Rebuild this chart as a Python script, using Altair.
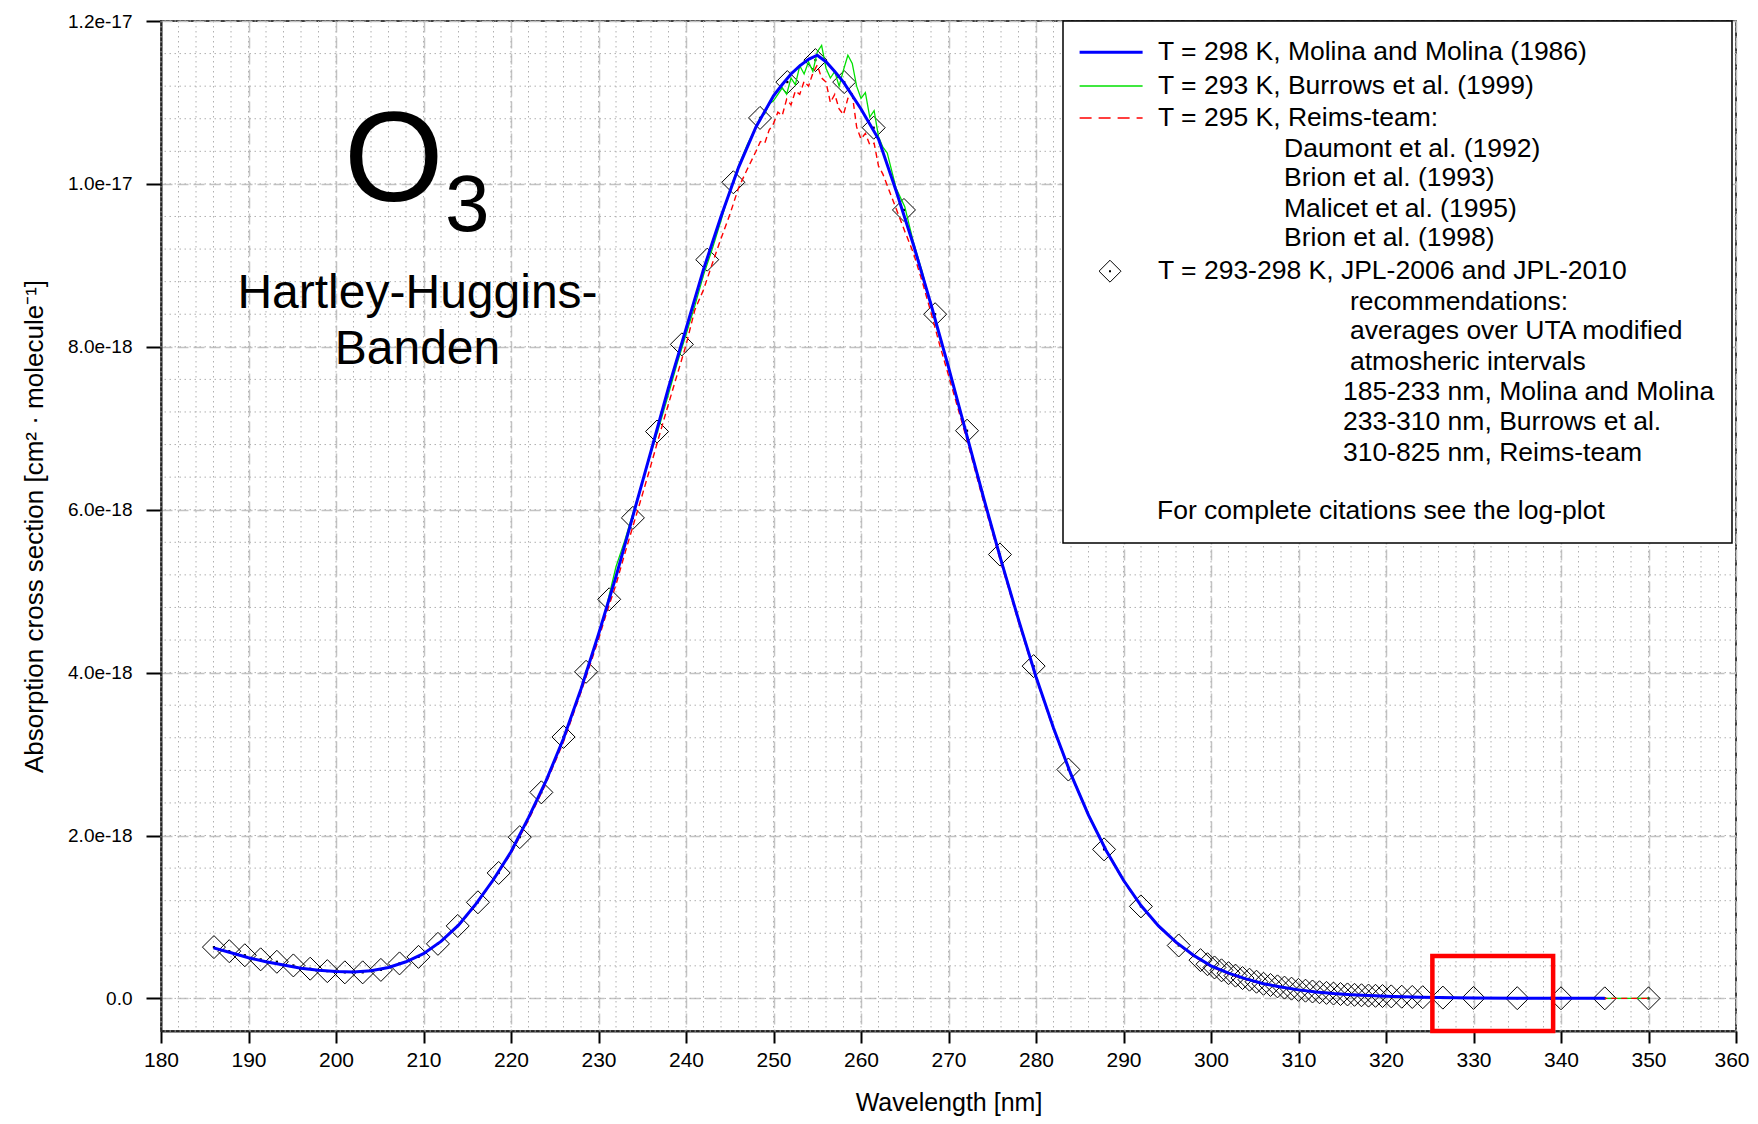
import altair as alt
import pandas as pd

# ---------------- data (cross sections in units of 1e-18 cm^2 / molecule) ----------------
molina_nm = [186, 188, 190, 192, 194, 196, 198, 200, 202, 204, 206, 208, 210, 212, 214, 216, 218, 220,
             222, 224, 226, 228, 230, 232, 234, 236, 238, 240, 242, 244, 246, 248, 250, 251, 252, 253,
             254, 255, 256, 257, 258, 260, 262, 264, 266, 268, 270, 272, 274, 276, 278, 280, 282, 284,
             286, 288, 290, 292, 294, 296, 298, 300, 302, 304, 306, 308, 310, 312, 314, 316, 318, 320,
             322, 324, 326, 328, 330, 335, 340, 345]
molina_val = [0.62, 0.56, 0.50, 0.45, 0.41, 0.37, 0.345, 0.33, 0.325, 0.34, 0.38, 0.45, 0.55, 0.70, 0.90,
              1.16, 1.46, 1.80, 2.22, 2.67, 3.19, 3.80, 4.47, 5.18, 5.95, 6.72, 7.50, 8.22, 8.95, 9.60,
              10.20, 10.70, 11.08, 11.22, 11.35, 11.45, 11.53, 11.58, 11.50, 11.38, 11.25, 10.92, 10.55,
              9.92, 9.25, 8.52, 7.75, 6.95, 6.15, 5.38, 4.65, 3.95, 3.32, 2.75, 2.25, 1.82, 1.45, 1.14,
              0.89, 0.69, 0.53, 0.40, 0.31, 0.24, 0.18, 0.14, 0.105, 0.080, 0.060, 0.046, 0.035, 0.027,
              0.020, 0.015, 0.011, 0.008, 0.006, 0.003, 0.0015, 0.0008]

burrows_nm = [231, 232, 233, 234, 235, 236, 237, 238, 239, 240, 241, 242, 243, 244, 245, 246, 247,
              248.0, 248.5, 249.0, 249.5, 250.0, 250.5, 251.0, 251.5, 252.0, 252.5, 253.0, 253.5, 254.0,
              254.5, 255.0, 255.5, 256.0, 256.5, 257.0, 257.5, 258.0, 258.5, 259.0, 259.5, 260.0, 260.5,
              261.0, 261.5, 262.0, 262.5, 263.0, 264, 265, 266, 267, 268, 269, 270, 272, 274, 276, 278,
              280, 282, 284, 286, 288, 290, 292, 294, 296, 298, 300, 302, 304, 306, 308, 310, 312, 314,
              316, 318, 320, 325, 330, 335, 340, 345, 350]
burrows_val = [4.85, 5.30, 5.62, 5.98, 6.33, 6.70, 7.05, 7.42, 7.80, 8.15, 8.50, 8.88, 9.20, 9.55, 9.92,
               10.22, 10.48, 10.70, 10.82, 10.86, 10.98, 11.02, 11.10, 11.18, 11.10, 11.30, 11.22, 11.45,
               11.35, 11.50, 11.38, 11.62, 11.70, 11.42, 11.30, 11.38, 11.20, 11.40, 11.58, 11.48, 11.20,
               11.05, 11.12, 10.82, 10.90, 10.58, 10.45, 10.38, 9.95, 9.72, 9.28, 8.92, 8.50, 8.10, 7.76,
               6.96, 6.16, 5.40, 4.66, 3.96, 3.32, 2.76, 2.26, 1.83, 1.46, 1.14, 0.89, 0.69, 0.52, 0.39,
               0.30, 0.23, 0.175, 0.135, 0.10, 0.077, 0.058, 0.045, 0.034, 0.026, 0.013, 0.006, 0.003,
               0.0015, 0.0008, 0.0004]

reims_nm = [195, 196, 198, 200, 202, 204, 206, 208, 210, 212, 214, 216, 218, 220, 222, 224, 226, 228,
            230, 231, 232, 233, 234, 235, 236, 237, 238, 239, 240, 241, 242, 243, 244, 245, 246, 247,
            248.0, 248.5, 249.0, 249.5, 250.0, 250.5, 251.0, 251.5, 252.0, 252.5, 253.0, 253.5, 254.0,
            254.5, 255.0, 255.5, 256.0, 256.5, 257.0, 257.5, 258.0, 258.5, 259.0, 259.5, 260.0, 260.5,
            261.0, 261.5, 262.0, 262.5, 263.0, 264, 265, 266, 267, 268, 269, 270, 272, 274, 276, 278,
            280, 282, 284, 286, 288, 290, 292, 294, 296, 298, 300, 302, 304, 306, 308, 310, 312, 314,
            316, 318, 320, 325, 330, 335, 340, 345, 350]
reims_val = [0.39, 0.37, 0.345, 0.33, 0.325, 0.34, 0.38, 0.45, 0.55, 0.70, 0.89, 1.15, 1.45, 1.78, 2.19,
             2.64, 3.15, 3.76, 4.41, 4.76, 5.08, 5.46, 5.82, 6.18, 6.55, 6.93, 7.30, 7.66, 8.02, 8.45,
             8.70, 9.02, 9.33, 9.62, 9.95, 10.18, 10.40, 10.52, 10.50, 10.66, 10.74, 10.88, 10.84, 11.04,
             10.97, 11.14, 11.10, 11.26, 11.20, 11.36, 11.46, 11.30, 11.25, 11.00, 11.10, 10.92, 10.85,
             11.05, 11.10, 10.70, 10.55, 10.62, 10.48, 10.50, 10.22, 10.12, 9.98, 9.70, 9.42, 9.15, 8.80,
             8.42, 8.02, 7.65, 6.90, 6.10, 5.35, 4.62, 3.93, 3.30, 2.74, 2.24, 1.81, 1.44, 1.13, 0.88,
             0.68, 0.52, 0.39, 0.30, 0.23, 0.175, 0.135, 0.10, 0.077, 0.058, 0.045, 0.034, 0.026, 0.012,
             0.006, 0.003, 0.0015, 0.0008, 0.0004]

jpl_nm = [186.05, 187.80, 189.58, 191.39, 193.24, 195.13, 197.05, 199.01, 201.01, 203.05, 205.13,
          207.26, 209.43, 211.65, 213.91, 216.22, 218.59, 221.00, 223.47, 226.00, 228.58, 231.22,
          233.93, 236.69, 239.53, 242.43, 245.41, 248.46, 251.58, 254.79, 258.08, 261.45, 264.91,
          268.47, 272.12, 275.88, 279.73, 283.70, 287.78, 291.99, 296.31,
          298.8, 299.6, 300.4, 301.2, 302.0, 302.8, 303.6, 304.4, 305.2, 306.0, 306.8, 307.6, 308.4,
          309.2, 310.0, 310.8, 311.6, 312.4, 313.2, 314.0, 314.8, 315.6, 316.4, 317.2, 318.0, 318.8,
          319.6, 320.6, 321.8, 323.0, 324.2, 326.5, 330, 335, 340, 345, 350]
jpl_val = [0.63, 0.58, 0.53, 0.48, 0.45, 0.405, 0.365, 0.335, 0.32, 0.32, 0.35, 0.43, 0.51, 0.67, 0.89,
           1.18, 1.54, 1.98, 2.53, 3.21, 4.01, 4.90, 5.90, 6.96, 8.03, 9.07, 10.02, 10.81, 11.25, 11.52,
           11.25, 10.69, 9.68, 8.40, 6.97, 5.45, 4.08, 2.81, 1.83, 1.13, 0.65,
           0.47, 0.42, 0.38, 0.345, 0.31, 0.28, 0.25, 0.23, 0.205, 0.18, 0.165, 0.148, 0.133, 0.12,
           0.105, 0.095, 0.085, 0.076, 0.068, 0.060, 0.054, 0.049, 0.044, 0.039, 0.035, 0.032, 0.029,
           0.025, 0.021, 0.018, 0.015, 0.010, 0.006, 0.003, 0.0015, 0.0008, 0.0004]

x_ticks = [180, 190, 200, 210, 220, 230, 240, 250, 260, 270, 280, 290, 300, 310, 320, 330, 340, 350, 360]
y_ticks = [0, 2, 4, 6, 8, 10, 12]
x_minor = list(range(180, 361, 2))
y_minor = [round(0.4 * i, 1) for i in range(-1, 31)]

legend_lines = [
    "T = 298 K, Molina and Molina (1986)",
    "T = 293 K, Burrows et al. (1999)",
    "T = 295 K, Reims-team:",
    "Daumont et al. (1992)",
    "Brion et al. (1993)",
    "Malicet et al. (1995)",
    "Brion et al. (1998)",
    "T = 293-298 K, JPL-2006 and JPL-2010",
    "recommendations:",
    "averages over UTA modified",
    "atmosheric intervals",
    "185-233 nm, Molina and Molina",
    "233-310 nm, Burrows et al.",
    "310-825 nm, Reims-team",
    "For complete citations see the log-plot",
]

# highlighted region (nm, 1e-18)
box_nm = [325.3, 339.1]
box_val = [-0.4, 0.52]

# ---------------- layout ----------------
W, H = 1575, 1010
FONT = "Liberation Sans"

xs = alt.Scale(domain=[180, 360], nice=False, zero=False)
ys = alt.Scale(domain=[-0.4, 12], nice=False, zero=False)

xaxis = alt.Axis(values=x_ticks, grid=True, gridDash=[11, 5], gridColor="#c4c4c4", gridWidth=1.5,
                 tickSize=12, tickWidth=2, tickColor="black", domainColor="#222222", domainWidth=2,
                 labelFont=FONT, labelFontSize=21, labelColor="black", labelPadding=6,
                 labelOverlap=False, labelFlush=False, format="d",
                 labelAlign={"condition": {"test": "datum.value == 360", "value": "right"}, "value": "center"},
                 labelOffset={"condition": {"test": "datum.value == 360", "value": 13}, "value": 0},
                 titleFont=FONT, titleFontSize=25, titleFontWeight="normal", titleColor="black",
                 titleY=79.5, titleBaseline="alphabetic")
yaxis = alt.Axis(values=y_ticks, grid=True, gridDash=[11, 5], gridColor="#c4c4c4", gridWidth=1.5,
                 tickSize=15, tickWidth=2, tickColor="black", domainColor="#222222", domainWidth=2,
                 labelFont=FONT, labelFontSize=19, labelColor="black", labelPadding=14,
                 labelOverlap=False, labelFlush=False,
                 labelExpr="datum.value == 0 ? '0.0' : format(datum.value * 1e-18, '.1e')",
                 titleFont=FONT, titleFontSize=26, titleFontWeight="normal", titleColor="black",
                 titleX=-127, titleY=H / 2, titleAngle=270, titleAlign="center", titleBaseline="middle")

XT = "Wavelength [nm]"
YT = "Absorption cross section [cm² · molecule⁻¹]"
xenc = alt.X("nm:Q", scale=xs, axis=xaxis, title=XT)
yenc = alt.Y("val:Q", scale=ys, axis=yaxis, title=YT)

layers = []

# minor dotted grid
layers.append(alt.Chart(pd.DataFrame({"nm": x_minor})).mark_rule(
    color="#b0b0b0", strokeWidth=1, strokeDash=[1.5, 3.5]).encode(x=xenc))
layers.append(alt.Chart(pd.DataFrame({"val": y_minor})).mark_rule(
    color="#b0b0b0", strokeWidth=1, strokeDash=[1.5, 3.5]).encode(y=yenc))

df_jpl = pd.DataFrame({"nm": jpl_nm, "val": jpl_val})
layers.append(alt.Chart(df_jpl).mark_point(shape="diamond", size=529, filled=False, color="black",
                                           strokeWidth=1, opacity=1).encode(x=xenc, y=yenc))
layers.append(alt.Chart(df_jpl).mark_point(shape="square", size=5, filled=True, color="black",
                                           opacity=1).encode(x=xenc, y=yenc))

layers.append(alt.Chart(pd.DataFrame({"nm": burrows_nm, "val": burrows_val})).mark_line(
    color="#00e000", strokeWidth=1.3).encode(x=xenc, y=yenc))
layers.append(alt.Chart(pd.DataFrame({"nm": reims_nm, "val": reims_val})).mark_line(
    color="#ff0000", strokeWidth=1.4, strokeDash=[6, 4]).encode(x=xenc, y=yenc))
layers.append(alt.Chart(pd.DataFrame({"nm": molina_nm, "val": molina_val})).mark_line(
    color="#0000ff", strokeWidth=3).encode(x=xenc, y=yenc))

# red highlight box
layers.append(alt.Chart(pd.DataFrame({"nm": [box_nm[0]], "nm2": [box_nm[1]],
                                      "val": [box_val[0]], "val2": [box_val[1]]})).mark_rect(
    filled=False, stroke="#ff0000", strokeWidth=4.5).encode(
    x=xenc, x2="nm2:Q", y=yenc, y2="val2:Q"))

one = pd.DataFrame({"k": [0]})

# legend box
layers.append(alt.Chart(one).mark_rect(fill="white", stroke="black", strokeWidth=1.5).encode(
    x=alt.value(902), x2=alt.value(1571), y=alt.value(0), y2=alt.value(522)))

line_y = [31.2, 65, 97, 127.6, 157.4, 187.9, 217.3, 250.2, 280.7, 310.4, 340.9, 371.4, 401.2, 431.6, 489.9]
line_x = [997, 997, 997, 1123, 1123, 1123, 1123, 997, 1189, 1189, 1189, 1182, 1182, 1182, 996]

samples = [("#0000ff", 3, None), ("#00e000", 1.3, None), ("#ff0000", 1.4, [12, 7])]
for i, (col, wd, dash) in enumerate(samples):
    kw = dict(color=col, strokeWidth=wd)
    if dash:
        kw["strokeDash"] = dash
    layers.append(alt.Chart(one).mark_rule(**kw).encode(
        x=alt.value(918.6), x2=alt.value(981.6), y=alt.value(line_y[i])))

layers.append(alt.Chart(one).mark_point(shape="diamond", size=480, filled=False, color="black",
                                        strokeWidth=1, opacity=1).encode(
    x=alt.value(949), y=alt.value(line_y[7])))
layers.append(alt.Chart(one).mark_point(shape="square", size=4, filled=True, color="black",
                                        opacity=1).encode(x=alt.value(949), y=alt.value(line_y[7])))

for txt, px, py in zip(legend_lines, line_x, line_y):
    layers.append(alt.Chart(pd.DataFrame({"t": [txt]})).mark_text(
        font=FONT, fontSize=26.5, color="black", align="left", baseline="middle").encode(
        text="t:N", x=alt.value(px), y=alt.value(py)))

# O3 and band label
annot = [("O", 128, 183, 179.5, "left"), ("3", 80, 284, 210, "left"),
         ("Hartley-Huggins-", 48, 256.5, 287, "center"), ("Banden", 48, 256.5, 343, "center")]
for txt, fs, px, py, al in annot:
    layers.append(alt.Chart(pd.DataFrame({"t": [txt]})).mark_text(
        font=FONT, fontSize=fs, color="black", align=al, baseline="alphabetic").encode(
        text="t:N", x=alt.value(px), y=alt.value(py)))

chart = alt.layer(*layers).properties(
    width=W, height=H,
    autosize=alt.AutoSizeParams(type="none"),
    padding={"left": 153, "top": 13, "right": 14, "bottom": 85},
    background="white",
).configure_view(stroke="black", strokeWidth=1.5)

chart.save("out.html", embed_options={"renderer": "svg", "actions": False})
